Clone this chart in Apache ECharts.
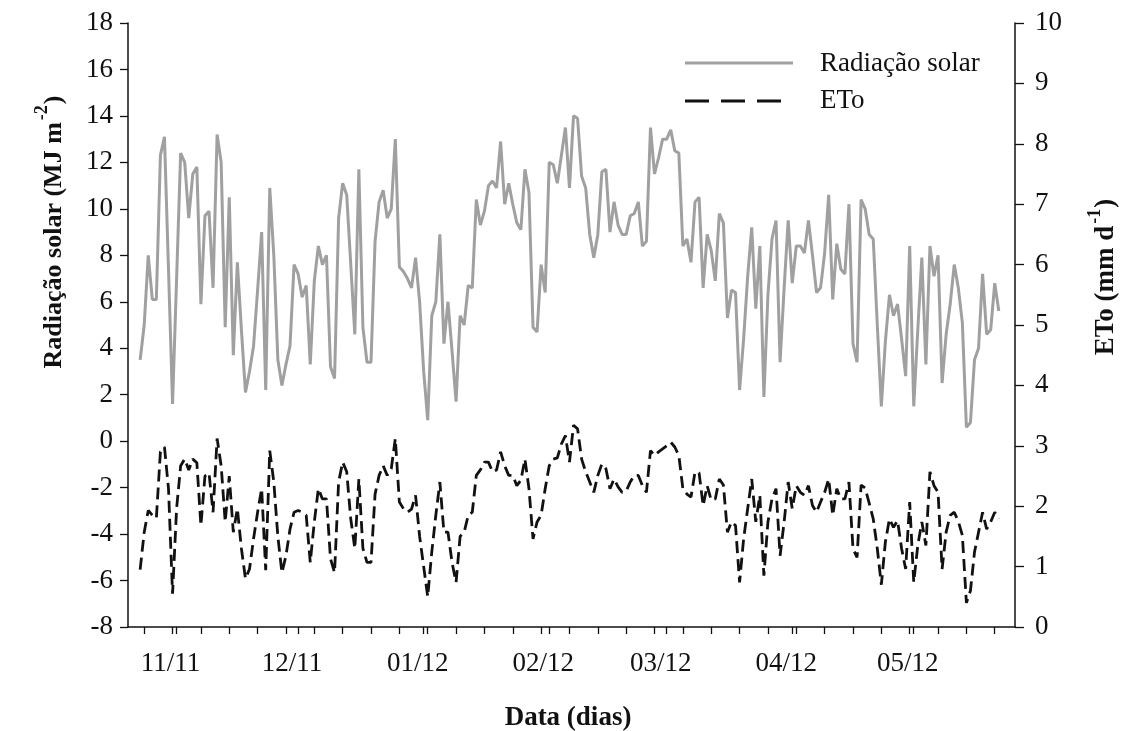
<!DOCTYPE html>
<html>
<head>
<meta charset="utf-8">
<script src="https://cdn.jsdelivr.net/npm/echarts@6/dist/echarts.min.js"></script>
<style>
html,body{margin:0;padding:0;background:#fff;}
#chart{width:1128px;height:731px;}
</style>
</head>
<body>
<div id="chart"></div>
<script>
// Day index: 0 = 31 Oct 2011 (daily data)
var startDay = -8;
var radiacao = [
3.5,5.0,8.0,6.1,6.1,12.3,13.1,7.4,1.6,7.0,
12.4,12.0,9.6,11.5,11.8,5.9,9.7,9.9,6.6,13.2,
12.0,4.9,10.5,3.7,7.7,4.8,2.1,3.0,4.1,6.5,
9.0,2.2,10.9,8.0,3.5,2.4,3.3,4.1,7.6,7.2,
6.2,6.7,3.3,6.9,8.4,7.6,8.0,3.2,2.7,9.6,
11.1,10.6,7.6,4.6,11.7,4.9,3.4,3.4,8.6,10.3,
10.8,9.6,10.0,13.0,7.5,7.3,7.0,6.6,7.9,6.0,
3.0,0.9,5.4,6.0,8.9,4.2,6.0,3.9,1.7,5.4,
5.0,6.7,6.6,10.4,9.3,9.9,11.0,11.2,10.9,12.9,
10.2,11.1,10.2,9.4,9.1,11.7,10.7,4.9,4.7,7.6,
6.4,12.0,11.9,11.1,12.3,13.5,10.9,14.0,13.9,11.4,
10.9,8.9,7.9,8.9,11.6,11.7,9.0,10.3,9.3,8.9,
8.9,9.7,9.8,10.3,8.4,8.6,13.5,11.5,12.2,13.0,
13.0,13.4,12.5,12.4,8.4,8.7,7.7,10.3,10.5,6.6,
8.9,8.2,6.9,9.8,9.4,5.3,6.5,6.4,2.2,4.4,
7.1,9.2,5.7,8.4,1.9,6.3,8.7,9.5,3.4,6.6,
9.5,6.8,8.4,8.4,8.1,9.5,8.0,6.4,6.6,8.1,
10.6,6.1,8.5,7.4,7.2,10.2,4.2,3.4,10.4,10.0,
8.9,8.7,5.0,1.5,4.3,6.3,5.4,5.9,4.4,2.8,
8.4,1.5,4.8,7.9,3.3,8.4,7.1,8.0,2.5,4.6,
5.9,7.6,6.6,5.1,0.6,0.8,3.5,4.0,7.2,4.6,
4.8,6.8,5.6
];
var eto = [
0.95,1.57,1.93,1.85,1.8,2.9,2.98,2.29,0.55,1.96,
2.67,2.78,2.6,2.78,2.72,1.68,2.5,2.55,1.9,3.12,
2.67,1.74,2.5,1.57,1.96,1.3,0.8,0.96,1.46,1.9,
2.29,0.94,2.92,2.4,1.5,0.9,1.18,1.62,1.9,1.93,
1.9,1.85,1.07,1.74,2.29,2.12,2.12,1.13,0.9,2.4,
2.73,2.57,1.79,1.3,2.45,1.3,1.07,1.07,2.2,2.51,
2.67,2.51,2.62,3.12,2.07,1.96,1.9,1.95,2.18,1.5,
1.0,0.5,1.24,1.85,2.4,1.57,1.57,1.07,0.74,1.5,
1.57,1.85,1.9,2.51,2.6,2.73,2.73,2.57,2.6,2.9,
2.67,2.51,2.51,2.34,2.43,2.78,2.29,1.46,1.74,1.85,
2.29,2.67,2.78,2.8,3.03,3.17,2.73,3.34,3.28,2.78,
2.57,2.4,2.23,2.51,2.7,2.62,2.29,2.45,2.32,2.23,
2.25,2.4,2.51,2.51,2.34,2.23,2.92,2.84,2.9,2.95,
3.0,3.06,2.98,2.84,2.29,2.2,2.15,2.57,2.55,2.01,
2.34,2.1,2.12,2.45,2.35,1.57,1.74,1.68,0.74,1.46,
1.96,2.45,1.74,2.18,0.85,1.74,2.12,2.29,1.18,1.74,
2.4,1.96,2.34,2.23,2.18,2.34,2.01,1.9,2.07,2.23,
2.45,1.85,2.29,2.12,2.12,2.4,1.3,1.15,2.35,2.3,
2.05,1.79,1.3,0.7,1.41,1.79,1.65,1.76,1.3,0.96,
2.07,0.74,1.35,1.74,1.35,2.57,2.34,2.23,0.96,1.57,
1.85,1.9,1.75,1.52,0.4,0.6,1.24,1.57,1.9,1.62,
1.74,1.9,1.79
];
var monthTickDays = [1, 31, 62, 93, 122, 153, 183];
var monthLabels = ['11/11', '12/11', '01/12', '02/12', '03/12', '04/12', '05/12'];
var weekTickStart = -7, weekTickEnd = 203, weekTickStep = 7;
var leftTicks = [-8, 18, 2];
var rightTicks = [0, 10, 1];
var seriesNames = ['Radiação solar', 'ETo'];

var allTicks = monthTickDays.slice();
for (var w = weekTickStart; w <= weekTickEnd; w += weekTickStep) allTicks.push(w);
allTicks.sort(function (a, b) { return a - b; });
var radData = radiacao.map(function (v, i) { return [startDay + i, v]; });
var etoData = eto.map(function (v, i) { return [startDay + i, v]; });

var FONT = "'Liberation Serif', 'Times New Roman', serif";
var GRAY = '#a0a0a0', BLACK = '#111111';
var chart = echarts.init(document.getElementById('chart'), null, {renderer: 'canvas'});
chart.setOption({
  animation: false,
  backgroundColor: '#ffffff',
  grid: {left: 128, right: 113, top: 23, bottom: 104, containLabel: false},
  legend: {show: false},
  xAxis: {
    type: 'value', min: -11, max: 208, position: 'bottom',
    axisLine: {show: true, onZero: false, lineStyle: {color: BLACK, width: 1.5}},
    axisTick: {show: true, customValues: allTicks, length: 7, lineStyle: {color: BLACK, width: 1.3}},
    axisLabel: {
      customValues: monthTickDays, margin: 23, padding: [0, 12, 0, 0],
      fontFamily: FONT, fontSize: 27, color: BLACK,
      formatter: function (v) { var i = monthTickDays.indexOf(v); return i >= 0 ? monthLabels[i] : ''; }
    },
    splitLine: {show: false}
  },
  yAxis: [{
    type: 'value', min: leftTicks[0], max: leftTicks[1], interval: leftTicks[2], position: 'left',
    axisLine: {show: true, onZero: false, lineStyle: {color: BLACK, width: 1.5}},
    axisTick: {show: true, length: 8, lineStyle: {color: BLACK, width: 1.3}},
    axisLabel: {margin: 15, fontFamily: FONT, fontSize: 27, color: BLACK},
    splitLine: {show: false}
  }, {
    type: 'value', min: rightTicks[0], max: rightTicks[1], interval: rightTicks[2], position: 'right',
    axisLine: {show: true, onZero: false, lineStyle: {color: BLACK, width: 1.5}},
    axisTick: {show: true, length: 9, lineStyle: {color: BLACK, width: 1.3}},
    axisLabel: {margin: 20, fontFamily: FONT, fontSize: 27, color: BLACK},
    splitLine: {show: false}
  }],
  series: [{
    name: seriesNames[0], type: 'line', yAxisIndex: 0, data: radData,
    showSymbol: false, symbol: 'none',
    lineStyle: {color: GRAY, width: 3}, itemStyle: {color: GRAY}
  }, {
    name: seriesNames[1], type: 'line', yAxisIndex: 1, data: etoData,
    showSymbol: false, symbol: 'none',
    lineStyle: {color: BLACK, width: 2.8, type: [12, 6]}, itemStyle: {color: BLACK}
  }],
  graphic: [{
    type: 'line', shape: {x1: 685, y1: 63, x2: 793, y2: 63},
    style: {stroke: GRAY, lineWidth: 3}
  }, {
    type: 'text', x: 820, y: 64,
    style: {text: seriesNames[0], align: 'left', verticalAlign: 'middle', fontFamily: FONT, fontSize: 27, fill: BLACK}
  }, {
    type: 'line', shape: {x1: 685, y1: 101, x2: 793, y2: 101},
    style: {stroke: BLACK, lineWidth: 3, lineDash: [24, 12]}
  }, {
    type: 'text', x: 820, y: 101,
    style: {text: seriesNames[1], align: 'left', verticalAlign: 'middle', fontFamily: FONT, fontSize: 27, fill: BLACK}
  }, {
    type: 'text', x: 50, y: 232, rotation: Math.PI / 2,
    style: {
      text: '{a|Radiação solar (MJ m}{s|-2}{a|)}', align: 'center', verticalAlign: 'middle',
      rich: {
        a: {fontFamily: FONT, fontSize: 26, fontWeight: 'bold', fill: BLACK, lineHeight: 34, verticalAlign: 'bottom'},
        s: {fontFamily: FONT, fontSize: 18, fontWeight: 'bold', fill: BLACK, lineHeight: 34, verticalAlign: 'top', padding: [0, 1, 0, 2]}
      }
    }
  }, {
    type: 'text', x: 1103, y: 277, rotation: Math.PI / 2,
    style: {
      text: '{a|ETo (mm d}{s|-1}{a|)}', align: 'center', verticalAlign: 'middle',
      rich: {
        a: {fontFamily: FONT, fontSize: 27, fontWeight: 'bold', fill: BLACK, lineHeight: 34, verticalAlign: 'bottom'},
        s: {fontFamily: FONT, fontSize: 18, fontWeight: 'bold', fill: BLACK, lineHeight: 34, verticalAlign: 'top', padding: [0, 1, 0, 2]}
      }
    }
  }, {
    type: 'text', x: 568, y: 718,
    style: {text: 'Data (dias)', align: 'center', verticalAlign: 'middle', fontFamily: FONT, fontSize: 27, fontWeight: 'bold', fill: BLACK}
  }]
});
</script>
</body>
</html>
